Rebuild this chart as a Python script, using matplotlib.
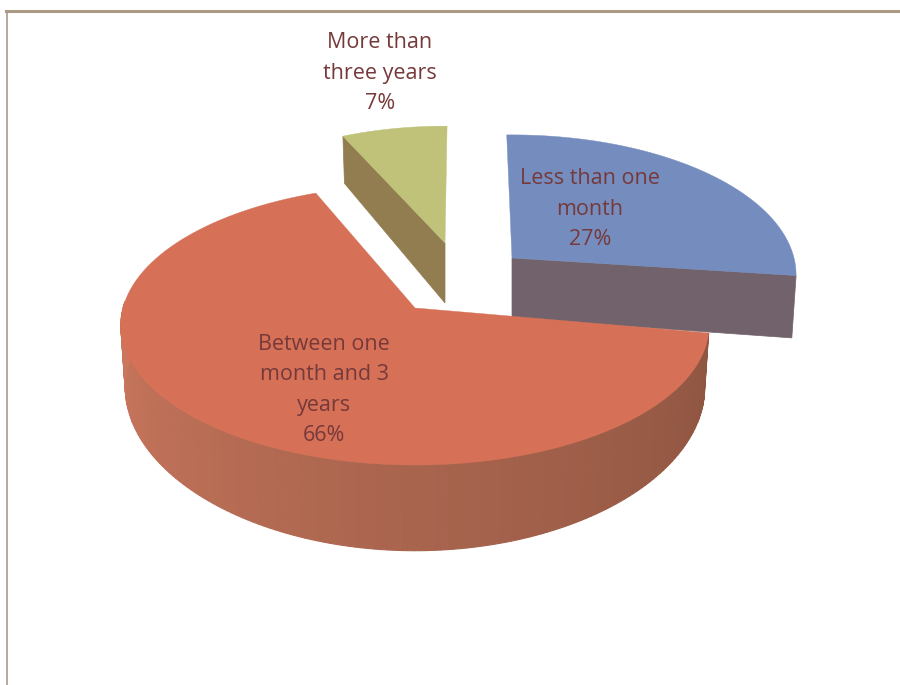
import numpy as np
import matplotlib
matplotlib.use("Agg")
import matplotlib.pyplot as plt
from matplotlib.colors import to_rgb

categories = ["Less than one\nmonth", "Between one\nmonth and 3\nyears", "More than\nthree years"]
shares = [27, 66, 7]

top_colors = ["#758DBE", "#D67157", "#BFC278"]
face_colors = ["#72626C", None, "#917D50"]
apex = [(512, 258), (415, 308), (445, 243)]
radius_x = [282, 292, 266]
radius_y = [138, 138, 131]
label_pos = [(590, 209), (324, 390), (380, 73)]
# small angular corrections (degrees) for the skew of the 3-D view
start_skew = [-1.2, 3.0, 0.0]
end_skew = [0.0, 3.0, 0.5]

K = 0.121      # perspective of the disc
KD = 0.30      # perspective of the wall height
DEPTH = 60
LOWER_X = 0.985
TEXT = "#76393A"
FRAME = "#AB9A86"

fig = plt.figure(figsize=(9, 6.85), dpi=100)
ax = fig.add_axes([0, 0, 1, 1])
ax.set_xlim(0, 900)
ax.set_ylim(685, 0)
ax.axis("off")


def project(theta, r, idx, lower=False):
    u, v = r * np.sin(theta), -r * np.cos(theta)
    s = 1 / (1 - K * v)
    rx = radius_x[idx] * (LOWER_X if lower else 1)
    x = apex[idx][0] + rx * u * s
    y = apex[idx][1] + radius_y[idx] * v * s
    if lower:
        y = y + DEPTH / (1 - KD * v)
    return x, y


edges = np.cumsum([0] + shares) / sum(shares) * 2 * np.pi
starts = edges[:-1] + np.radians(start_skew)
ends = edges[1:] + np.radians(end_skew)

# frame
ax.plot([6.5, 6.5], [685, 11], color=FRAME, lw=1.2, zorder=1)
ax.plot([6, 900], [11, 11], color=FRAME, lw=2.2, zorder=1)

# cut faces of the small slices, drawn first
for idx, ang in [(0, ends[0]), (2, starts[2])]:
    a0 = project(ang, 0, idx)
    a1 = project(ang, 1, idx)
    b1 = project(ang, 1, idx, True)
    b0 = project(ang, 0, idx, True)
    ax.fill([a0[0], a1[0], b1[0], b0[0]], [a0[1], a1[1], b1[1], b0[1]],
            color=face_colors[idx], lw=0.5, zorder=2)

# curved wall of the big slice with shading along the arc
start = starts[1]
wall_end = 1.5 * np.pi + 0.05
steps = np.linspace(start, wall_end, 150)
light = np.array(to_rgb("#CC785E"))
dark = np.array(to_rgb("#8E5541"))
for t0, t1 in zip(steps[:-1], steps[1:]):
    f = (t1 - start) / (wall_end - start)
    col = dark + (light - dark) * f ** 1.1
    xs, ys = [], []
    for t, low in [(t0, False), (t1, False), (t1, True), (t0, True)]:
        p = project(t, 1, 1, low)
        xs.append(p[0])
        ys.append(p[1])
    ax.fill(xs, ys, color=col, ec=col, lw=0.8, zorder=3)

# top faces
for idx in range(3):
    t = np.linspace(starts[idx], ends[idx], 120)
    xs, ys = project(t, 1, idx)
    ax0, ay0 = project(0.0, 0, idx)
    ax.fill(np.r_[ax0, xs], np.r_[ay0, ys], color=top_colors[idx], lw=0.3,
            zorder=4 if idx == 1 else 2.5)

# labels
for idx in range(3):
    ax.text(label_pos[idx][0], label_pos[idx][1],
            f"{categories[idx]}\n{shares[idx]}%",
            ha="center", va="center", color=TEXT, fontsize=15.5,
            family="Open Sans", linespacing=1.6, zorder=6)

fig.savefig("out.png", dpi=100, facecolor="white")
